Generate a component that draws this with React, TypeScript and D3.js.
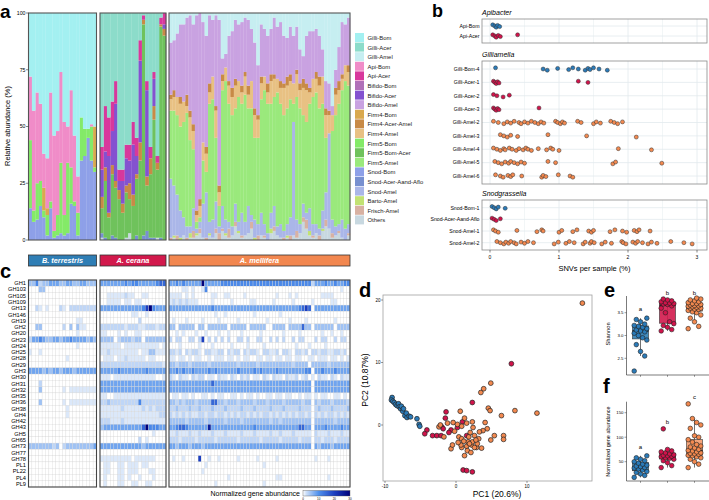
import React from "react";
import * as d3 from "d3";

const FONT = "'Liberation Sans', Arial, Helvetica, sans-serif";

// ---------- shared ----------
const hosts = ["B. terrestris", "A. cerana", "A. mellifera"];
const hostColors = ["#2f7eb5", "#d2194c", "#f2874f"];
const pointColors = ["#2b7bb9", "#d1134b", "#f3894f"];

// ---------- panel a ----------
const taxa = ["Gilli-Bom", "Gilli-Acer", "Gilli-Amel", "Api-Bom", "Api-Acer", "Bifido-Bom", "Bifido-Acer", "Bifido-Amel", "Firm4-Bom", "Firm4-Acer-Amel", "Firm4-Amel", "Firm5-Bom", "Firm5-Bom-Acer", "Firm5-Amel", "Snod-Bom", "Snod-Acer-Aand-Aflo", "Snod-Amel", "Barto-Amel", "Frisch-Amel", "Others"];
const taxaColors = ["#a3f0f1", "#8cdcca", "#c6eef1", "#f08cc8", "#d8389c", "#b070b8", "#8452d0", "#c9a2e1", "#d9a94f", "#c88a46", "#e8c183", "#84ea68", "#6fc25c", "#9ae97c", "#8ea0e8", "#7890d0", "#aab6e8", "#c2e272", "#d8b1a2", "#c8d8e0"];
const yTicksA = [0, 25, 50, 75, 100];

const bomSnod = [14, 8, 9, 15, 10, 2, 14, 1, 2, 3, 2, 3, 16, 15, 2, 35, 37, 45, 35, 30];
const bomFirm5 = [30, 5, 16, 11, 3, 9, 3, 3, 9, 31, 9, 31, 16, 2, 10, 19, 12, 4, 15, 2];
const bomFirm4 = [0, 0, 0, 0, 10, 3, 0, 0, 0, 0, 0, 0, 0, 0, 0, 0, 0, 0, 0, 18];
const bomApi = [28, 44, 40, 34, 15, 22, 48, 42, 37, 40, 41, 16, 34, 29, 16, 0, 0, 0, 1, 0];

const acerOthers = [1, 0, 0, 0, 0, 0, 0, 1, 3, 0, 0, 0, 0, 0, 0, 0, 1, 0, 0];
const acerSnod = [2, 1, 0, 2, 1, 0, 0, 0, 0, 0, 2, 0, 2, 4, 1, 1, 0, 1, 0];
const acerFirm5 = [11, 25, 10, 27, 22, 18, 12, 20, 15, 15, 25, 35, 93, 20, 28, 52, 30, 93, 90];
const acerFirm4 = [5, 6, 2, 4, 3, 4, 4, 3, 7, 5, 2, 8, 2, 4, 7, 6, 3, 1, 3];
const acerBifido = [12, 7, 25, 15, 34, 4, 10, 12, 10, 22, 8, 36, 0, 38, 0, 12, 0, 0, 2];
const acerApi = [10, 20, 17, 13, 10, 5, 5, 6, 7, 10, 8, 9, 2, 4, 5, 3, 3, 3, 5];

const amelOthers = [0, 1, 0, 0, 2, 0, 1, 1, 2, 3, 1, 0, 2, 1, 3, 0, 4, 2, 1, 2, 6, 3, 1, 2, 3, 5, 0, 0, 2, 1, 0, 3, 4, 2, 1, 0, 1, 0, 2, 1, 3, 8, 5, 2, 1, 3, 0, 4, 6, 5, 1, 2, 3, 1, 0, 2];
const amelFrisch = [1, 0, 2, 0, 0, 1, 0, 3, 0, 2, 0, 1, 0, 0, 2, 3, 1, 0, 4, 0, 2, 0, 1, 0, 0, 3, 0, 2, 0, 1, 0, 0, 2, 0, 0, 1, 0, 2, 0, 3, 0, 2, 4, 0, 1, 0, 2, 0, 3, 0, 2, 0, 1, 0, 0, 1];
const amelBarto = [0, 1, 0, 1, 0, 0, 2, 0, 1, 0, 0, 0, 1, 0, 0, 0, 0, 1, 0, 0, 0, 1, 0, 0, 0, 0, 1, 0, 0, 0, 0, 2, 0, 0, 0, 0, 1, 0, 0, 0, 0, 0, 0, 2, 0, 0, 0, 1, 0, 0, 0, 0, 0, 0, 0, 0];
const amelSnod = [26, 22, 18, 12, 8, 5, 3, 10, 2, 3, 15, 20, 5, 8, 12, 3, 10, 6, 3, 4, 8, 4, 10, 6, 12, 3, 8, 5, 10, 5, 3, 7, 9, 4, 6, 3, 5, 8, 50, 5, 4, 6, 3, 10, 5, 4, 3, 8, 12, 42, 6, 4, 3, 8, 5, 4];
const amelFirm5 = [30, 33, 35, 37, 42, 50, 38, 26, 3, 2, 19, 9, 52, 53, 28, 9, 51, 61, 52, 49, 42, 55, 48, 56, 43, 47, 36, 38, 50, 59, 57, 48, 48, 59, 53, 51, 51, 52, 8, 54, 51, 39, 40, 46, 56, 58, 53, 47, 24, 0, 39, 49, 53, 57, 65, 61];
const amelFirm4 = [5, 6, 8, 10, 9, 3, 10, 8, 3, 5, 8, 8, 5, 10, 12, 6, 4, 6, 8, 8, 10, 7, 5, 8, 6, 12, 10, 8, 7, 6, 5, 10, 8, 6, 7, 12, 10, 8, 9, 10, 8, 12, 14, 5, 8, 6, 10, 12, 10, 8, 7, 9, 6, 5, 7, 6];
const amelFirm4b = [2, 3, 0, 3, 0, 5, 3, 3, 2, 3, 0, 3, 4, 0, 2, 3, 3, 0, 2, 4, 3, 0, 3, 2, 4, 0, 3, 2, 3, 0, 4, 3, 2, 0, 3, 2, 4, 3, 0, 2, 3, 4, 3, 2, 0, 3, 4, 0, 3, 2, 0, 3, 4, 2, 0, 3];
const amelBifido = [23, 22, 28, 32, 34, 34, 42, 44, 86, 82, 53, 49, 30, 25, 40, 73, 7, 6, 20, 25, 26, 25, 28, 24, 29, 23, 29, 22, 23, 21, 21, 20, 25, 23, 26, 21, 17, 21, 21, 19, 15, 10, 21, 25, 21, 19, 18, 12, 12, 12, 4, 8, 15, 23, 18, 21];

// ---------- panel b ----------
const apiRows = ["Api-Bom", "Api-Acer"];
const gilliRows = ["Gilli-Bom-4", "Gilli-Acer-1", "Gilli-Acer-2", "Gilli-Acer-3", "Gilli-Amel-2", "Gilli-Amel-3", "Gilli-Amel-4", "Gilli-Amel-5", "Gilli-Amel-6"];
const snodRows = ["Snod-Bom-1", "Snod-Acer-Aand-Aflo", "Snod-Amel-1", "Snod-Amel-2"];
const snvTicks = [0, 1, 2, 3];

const snvApiBom = [0.04, 0.07, 0.09, 0.11, 0.14];
const snvApiAcer = [0.04, 0.07, 0.09, 0.12, 0.15, 0.4];
const snvGilliBom4 = [0.08, 0.77, 0.83, 0.98, 1.14, 1.2, 1.28, 1.38, 1.42, 1.45, 1.5, 1.58, 1.7];
const snvGilliAcer1 = [0.05, 0.07, 0.09, 0.11, 0.13, 1.28, 1.42];
const snvGilliAcer2 = [0.05, 0.1, 0.19, 0.28];
const snvGilliAcer3 = [0.05, 0.07, 0.09, 0.11, 0.13, 0.71];
const snvGilliAmel2 = [0.05, 0.12, 0.2, 0.25, 0.3, 0.35, 0.42, 0.45, 0.5, 0.55, 0.6, 0.65, 0.7, 0.74, 0.78, 0.95, 0.98, 1.02, 1.05, 1.08, 1.27, 1.32, 1.5, 1.54, 1.6, 1.75, 1.8, 1.85, 1.92];
const snvGilliAmel3 = [0.15, 0.2, 0.25, 0.3, 0.4, 0.84, 1.4, 2.12];
const snvGilliAmel4 = [0.05, 0.1, 0.15, 0.2, 0.22, 0.28, 0.32, 0.38, 0.42, 0.48, 0.52, 0.55, 0.6, 0.7, 0.82, 0.88, 0.91, 1.0, 1.86, 2.34];
const snvGilliAmel5 = [0.07, 0.12, 0.17, 0.22, 0.27, 0.3, 0.35, 0.4, 0.45, 0.5, 0.84, 0.95, 1.78, 1.82, 2.49];
const snvGilliAmel6 = [0.08, 0.15, 0.19, 0.26, 0.3, 0.33, 0.46, 0.75, 0.77, 0.81, 0.99, 1.16, 1.2];
const snvSnodBom1 = [0.03, 0.06, 0.09, 0.12, 0.22];
const snvSnodAcer = [0.03, 0.06, 0.09, 0.15];
const snvSnodAmel1 = [0.05, 0.08, 0.12, 0.39, 0.68, 0.75, 0.77, 1.0, 1.04, 1.2, 1.26, 1.43, 1.47, 1.5, 1.74, 1.81, 1.92, 1.98, 2.09, 2.13, 2.16, 2.32];
const snvSnodAmel2 = [0.1, 0.15, 0.2, 0.23, 0.27, 0.3, 0.35, 0.38, 0.45, 0.5, 0.55, 0.63, 0.93, 0.99, 1.1, 1.15, 1.22, 1.35, 1.38, 1.45, 1.47, 1.51, 1.62, 1.67, 1.76, 1.91, 1.93, 1.97, 2.07, 2.11, 2.14, 2.21, 2.29, 2.34, 2.42, 2.62, 2.81, 2.93];

// ---------- panel c ----------
const geneFamilies = ["GH1", "GH103", "GH105", "GH109", "GH13", "GH146", "GH19", "GH2", "GH20", "GH23", "GH24", "GH25", "GH28", "GH29", "GH3", "GH30", "GH31", "GH32", "GH35", "GH36", "GH38", "GH4", "GH42", "GH43", "GH5", "GH65", "GH73", "GH77", "GH78", "PL1", "PL22", "PL4", "PL9"];
const levelValues = [0, 1.5, 3, 5, 8, 11, 15, 20, 25, 30];
const legendTicks = [0, 10, 20, 30];
const bomHeat = [
  "33523344433443344333", "00033000000000000000", "", "", "00210100021022222222", "", "00000000000000110000",
  "00330000002030311000", "00000000000000100000", "24454334434454444343", "00000000000000100000", "10010000000000000000",
  "00000000000100000000", "", "44443434434443444444", "", "00020000000000000000", "00030000001011111111", "",
  "00030000001011111111", "00000000000100000000", "00000000000100000000", "", "", "", "", "33333332302333333334",
  "", "", "", "", "", "",
];
const acerHeat = [
  "4444444545544444566", "", "0011111211001100000", "0011110110110000000", "4444444444445795444", "0000000001100100000",
  "0000000000020000000", "2222222122211222122", "1100010100110000000", "3333023332330333333", "1111110111111111101",
  "1121111111101133111", "0111011211111011000", "2222222222222222221", "4444454444444544444", "1110111111111111001",
  "4444444444444444444", "4444444444444444444", "1100111111111111111", "2232222222252222222", "1111112111112121222",
  "1111111111111111122", "2221112111111111111", "3444444444446955544", "0000000000000001000", "0000000000020100000",
  "4444444444443444444", "", "1111111110111111000", "0110011011101100000", "0110011011100011000", "0100011010010001000",
  "0100011001100110000",
];
const amelHeat = [
  "44545444 44944444 55555555 55555555 55555555 55552444 54454455",
  "00001101 00150000 00000000 00000000 00000000 00000000 00000100",
  "11110101 00000110 01100001 00000000 01000101 00000001 11100000",
  "12121211 10000100 00010000 01100000 10000010 00001000 00110000",
  "44444444 44444544 44444444 44444444 44444444 56760444 44444444",
  "00000000 00000010 01000000 00100000 00100000 00000000 00000000",
  "01000100 00100001 00000100 00000010 00000100 00100000 00010000",
  "33033333 03303333 33033333 03333300 33330333 36330333 33303333",
  "00101000 10010001 00100010 00001000 00010000 10000001 00100100",
  "20220022 02702020 20200220 20022002 02020020 22000202 20020220",
  "00010000 01000100 00010000 10000100 00000001 00010000 10000000",
  "22120212 21022112 20212202 12210221 12022102 21202212 21122120",
  "11011010 11001011 10110101 10011011 01101101 10011011 10110101",
  "33233323 33332333 33333233 33323333 33333323 33303333 32333333",
  "44545445 44445454 44444544 44545444 45444444 44550445 44454444",
  "21021102 12201102 11021021 20110210 21102112 01201021 10210211",
  "44444444 44444644 44444444 44444444 44444444 44440444 44444444",
  "44444444 44444444 44444444 44444444 44444444 44440444 44444444",
  "01101101 00110101 10011010 11010011 01101100 10110101 10011010",
  "33232333 23333663 32333233 33233323 33323333 32330323 33233332",
  "22322232 23222322 23222232 22322223 22232222 32220232 22322223",
  "21212121 12212212 21212122 12121221 21212121 22120212 12212121",
  "33333233 33323333 32333323 33333332 33233333 33330333 33323333",
  "44566544 44448444 44444444 44544444 44444444 66440444 54444544",
  "11211121 12111211 12111121 11211112 11211121 11110211 12111211",
  "22212222 12222212 22222122 22221222 22122222 12220221 22212222",
  "44344434 44344444 44444444 44444444 44444444 44440434 44344444",
  "",
  "01001000 07001001 00000100 00010000 01000000 00000100 01000000",
  "00000000 00010000 00000000 00000100 00000000 00000000 00000000",
  "00000000 00100000 00000000 00000000 00000000 00000000 00000000",
  "00000000 00000000 00100000 00000000 01100000 00000000 01000000",
  "00000000 00000010 00000000 00000100 00000000 00000000 00000000",
];

// ---------- panel d ----------
const pcaTicksX = [-10, 0, 10];
const pcaTicksY = [0, 10, 20];
const pcaBom = [[-9.0, 4.4], [-9.1, 4.0], [-8.9, 3.8], [-8.7, 3.6], [-8.5, 3.3], [-8.3, 3.1], [-8.1, 3.4], [-8.0, 2.9], [-7.8, 2.6], [-7.7, 3.0], [-7.5, 2.2], [-7.4, 2.6], [-7.2, 1.5], [-7.0, 1.9], [-6.9, 1.2], [-6.6, 1.4], [-6.4, 1.3], [-5.5, 1.0], [-5.2, 0.1], [-5.1, -0.2]];
const pcaAcer = [[7.8, 9.8], [2.3, 3.6], [-1.4, 2.1], [-1.5, 1.1], [-4.1, -0.8], [-4.4, -1.4], [-3.3, -1.7], [-2.7, -1.7], [-2.1, -1.7], [-2.0, -0.3], [0.9, 0.5], [1.0, -7.2], [1.5, -7.3], [2.3, -7.5], [-0.7, -0.8], [1.5, -1.7], [-1.0, -1.2], [-1.8, -0.6], [0.2, -0.4]];
const pcaAmel = [[17.8, 19.5], [11.4, 1.9], [4.9, 6.7], [3.5, 5.2], [3.9, 5.8], [4.55, 2.7], [4.8, 2.3], [6.4, 1.5], [8.3, 2.3], [6.7, -1.7], [6.7, -2.3], [5.4, -1.7], [4.9, -2.4], [4.1, 0.4], [4.4, -0.6], [3.8, -0.9], [0.6, 2.2], [-0.4, 0.4], [0.2, 0.1], [0.8, -0.2], [1.5, 0.3], [2.3, 0.5], [2.4, -0.4], [0.4, -1.9], [0.8, -2.2], [1.8, -1.9], [2.6, -1.7], [3.2, -2.2], [1.5, -3.4], [2.2, -3.2], [2.9, -3.6], [3.6, -3.7], [0.8, -3.6], [1.6, -4.1], [1.2, -4.9], [0.7, -3.2], [-0.7, -3.8], [-0.5, -3.2], [-2.4, -0.3], [-2.2, 0], [-1.7, -1.9], [2.3, -2.7], [3.0, -3.0], [1.7, -2.7], [2.6, -3.6], [1.1, -2.6], [2.0, -1.2], [-0.2, -1.0], [3.3, -1.1], [1.2, 1.1], [2.8, -2.4], [0.3, -2.8], [-1.2, 0.3], [2.1, -4.4], [1.9, -3.0]];

// ---------- panels e, f ----------
const shannonTicks = [2.5, 3.0, 3.5];
const geneTicks = [50, 100, 150];
const shannonBom = [2.22, 2.55, 2.65, 2.8, 2.9, 2.95, 3.0, 3.05, 3.08, 3.1, 3.12, 3.15, 3.18, 3.2, 3.22, 3.25, 3.3, 3.35, 3.38];
const shannonAcer = [3.1, 3.13, 3.18, 3.22, 3.26, 3.3, 3.5, 3.6, 3.65, 3.68, 3.69, 3.7, 3.71, 3.72, 3.74, 3.76, 3.78, 3.8];
const shannonAmel = [3.15, 3.2, 3.3, 3.38, 3.45, 3.5, 3.52, 3.55, 3.57, 3.58, 3.6, 3.6, 3.62, 3.63, 3.64, 3.65, 3.66, 3.67, 3.68, 3.7, 3.7, 3.72, 3.74, 3.76, 3.78, 3.8, 3.82];
const shannonLetters = ["a", "b", "b"];
const geneBom = [18, 22, 25, 28, 30, 33, 35, 37, 38, 40, 41, 43, 45, 47, 50, 52, 55, 58, 62];
const geneAcer = [38, 42, 48, 52, 55, 57, 58, 60, 61, 62, 63, 64, 66, 68, 70, 72, 75, 117];
const geneAmel = [38, 45, 50, 55, 58, 60, 62, 63, 65, 66, 67, 68, 70, 72, 73, 75, 78, 80, 82, 85, 90, 95, 100, 103, 118, 125, 130, 138, 168];
const geneLetters = ["a", "b", "c"];

// ---------- helpers ----------
const colorOf = d3.scaleOrdinal<string, string>().domain(taxa).range(taxaColors);
const heatColor = d3.scaleLinear<string>().domain([0, 2, 10, 20, 30]).range(["#ffffff", "#cfe0f8", "#4f90ec", "#1c3fc0", "#00007a"]);
const parseRow = (s: string, n: number) => s.replace(/\s/g, "").padEnd(n, "0").slice(0, n).split("").map((c) => levelValues[+c]);
const groupX = [[28.5, 96.5], [100, 166], [169, 350]];

function boxStats(vals: number[]) {
  const s = vals.slice().sort(d3.ascending);
  const q1 = d3.quantile(s, 0.25)!, med = d3.quantile(s, 0.5)!, q3 = d3.quantile(s, 0.75)!;
  const iqr = q3 - q1;
  const lo = d3.min(s.filter((v) => v >= q1 - 1.5 * iqr))!;
  const hi = d3.max(s.filter((v) => v <= q3 + 1.5 * iqr))!;
  return { q1, med, q3, lo, hi };
}

export default function App() {
  // panel a scales
  const yA = d3.scaleLinear().domain([0, 100]).range([240, 13]);
  const barGroups: { layers: [string, number[]][]; rest: string }[] = [
    { layers: [["Snod-Bom", bomSnod], ["Firm5-Bom", bomFirm5], ["Firm4-Bom", bomFirm4], ["Api-Bom", bomApi]], rest: "Gilli-Bom" },
    { layers: [["Others", acerOthers], ["Snod-Acer-Aand-Aflo", acerSnod], ["Firm5-Bom-Acer", acerFirm5], ["Firm4-Acer-Amel", acerFirm4], ["Bifido-Acer", acerBifido], ["Api-Acer", acerApi]], rest: "Gilli-Acer" },
    { layers: [["Others", amelOthers], ["Frisch-Amel", amelFrisch], ["Barto-Amel", amelBarto], ["Snod-Amel", amelSnod], ["Firm5-Amel", amelFirm5], ["Firm4-Amel", amelFirm4], ["Firm4-Acer-Amel", amelFirm4b], ["Bifido-Amel", amelBifido]], rest: "Gilli-Amel" },
  ];

  const barEls: any[] = [];
  barGroups.forEach((g, gi) => {
    const n = g.layers[0][1].length;
    const keys = g.layers.map((l) => l[0]).concat([g.rest]);
    const rows = d3.range(n).map((i) => {
      const o: any = {};
      let sum = 0;
      g.layers.forEach(([k, arr]) => { o[k] = arr[i]; sum += arr[i]; });
      o[g.rest] = Math.max(0, 100 - sum);
      return o;
    });
    const series = d3.stack().keys(keys)(rows);
    const xb = d3.scaleBand<number>().domain(d3.range(n)).range(groupX[gi] as [number, number]).padding(0);
    series.forEach((s) => {
      s.forEach((d, i) => {
        const y0 = yA(d[0]), y1 = yA(Math.min(100, d[1]));
        if (y0 - y1 <= 0) return;
        barEls.push(<rect key={`b${gi}-${s.key}-${i}`} x={xb(i)!} y={y1} width={xb.bandwidth() + 0.25} height={y0 - y1} fill={colorOf(s.key as string)} />);
      });
    });
  });

  // panel b
  const xB = d3.scaleLinear().domain([0, 3]).range([490, 697]);
  const facets = [
    { title: "Apibacter", rows: apiRows, hostIdx: [0, 1], values: [snvApiBom, snvApiAcer] },
    { title: "Gilliamella", rows: gilliRows, hostIdx: [0, 1, 1, 1, 2, 2, 2, 2, 2], values: [snvGilliBom4, snvGilliAcer1, snvGilliAcer2, snvGilliAcer3, snvGilliAmel2, snvGilliAmel3, snvGilliAmel4, snvGilliAmel5, snvGilliAmel6] },
    { title: "Snodgrassella", rows: snodRows, hostIdx: [0, 1, 2, 2], values: [snvSnodBom1, snvSnodAcer, snvSnodAmel1, snvSnodAmel2] },
  ];
  const facetBox = [[19, 43], [61, 184], [200, 250]];
  const facetSpan = [[26, 36], [69, 176], [207.7, 242.7]];
  const facetTitleY = [15, 56.5, 196];
  const gridB = [0, 0.5, 1, 1.5, 2, 2.5, 3];
  const jit = (j: number) => (((j * 7) % 5) - 2) * 0.6;

  // panel c
  const yH = d3.scaleBand<string>().domain(geneFamilies).range([280, 487]);
  const heats = [bomHeat, acerHeat, amelHeat];
  const heatN = [20, 19, 56];

  // panel d
  const xD = d3.scaleLinear().domain([-10, 10]).range([385, 527]);
  const yD = d3.scaleLinear().domain([0, 20]).range([425, 300]);

  // panel e, f
  const xE = d3.scaleBand<number>().domain([0, 1, 2]).range([627, 708]);
  const yE = d3.scaleLinear().domain([2.5, 3.5]).range([358.3, 312.7]);
  const yF = d3.scaleLinear().domain([50, 150]).range([461.7, 412.7]);

  const boxPanel = (data: number[][], y: any, key: string, letters: string[], letterY: number[]) => (
    <g key={key}>
      {data.map((vals, gi) => {
        const st = boxStats(vals);
        const cx = xE(gi)! + xE.bandwidth() / 2;
        const bw = 16;
        return (
          <g key={key + gi}>
            <line x1={cx} x2={cx} y1={y(st.lo)} y2={y(st.hi)} stroke="#333" strokeWidth={0.7} />
            <rect x={cx - bw / 2} y={y(st.q3)} width={bw} height={y(st.q1) - y(st.q3)} fill={hostColors[gi]} fillOpacity={gi === 2 ? 0.75 : 0.9} stroke="#333" strokeWidth={0.6} />
            <line x1={cx - bw / 2} x2={cx + bw / 2} y1={y(st.med)} y2={y(st.med)} stroke="#111" strokeWidth={1.2} />
            {vals.map((v, j) => (
              <circle key={j} cx={cx + ((((j * 5) % 7) - 3) * 2.1)} cy={y(v)} r={2.3} fill={pointColors[gi]} stroke="#222" strokeWidth={0.6} />
            ))}
            <text x={cx} y={letterY[gi]} textAnchor="middle" fontSize={6}>{letters[gi]}</text>
            <line x1={cx} x2={cx} y1={key === "e" ? 375 : 481} y2={(key === "e" ? 375 : 481) + 1.8} stroke="#333" strokeWidth={0.5} />
          </g>
        );
      })}
    </g>
  );

  return (
    <svg width={709} height={500} style={{ position: "absolute", left: 0, top: 0, background: "#fff" }} fontFamily={FONT}>
      <defs>
        <linearGradient id="hmgrad" x1="0" x2="1" y1="0" y2="0">
          {[0, 2, 10, 20, 30].map((v) => <stop key={v} offset={v / 30} stopColor={heatColor(v)} />)}
        </linearGradient>
      </defs>
      <rect width={709} height={500} fill="#fff" />

      {/* ===== panel a ===== */}
      <text x={0} y={18} fontSize={19} fontWeight="bold">a</text>
      {barEls}
      {groupX.map((gx, i) => (
        <rect key={"abox" + i} x={gx[0]} y={13} width={gx[1] - gx[0]} height={227} fill="none" stroke="#555" strokeWidth={1.1} />
      ))}
      {yTicksA.map((t) => (
        <g key={"yta" + t}>
          <line x1={26} x2={28.5} y1={yA(t)} y2={yA(t)} stroke="#333" strokeWidth={0.6} />
          <text x={25.5} y={yA(t) + 1.8} textAnchor="end" fontSize={5.2}>{t}</text>
        </g>
      ))}
      <text transform="translate(9.5,126) rotate(-90)" textAnchor="middle" fontSize={7.5}>Relative abundance (%)</text>
      {taxa.map((t, i) => (
        <g key={"lg" + t}>
          <rect x={355} y={33 + i * 9.6} width={9} height={9} fill={taxaColors[i]} />
          <text x={367.5} y={40 + i * 9.6} fontSize={5.9} fill="#222">{t}</text>
        </g>
      ))}

      {/* strips */}
      {hosts.map((h, i) => (
        <g key={"strip" + h}>
          <rect x={groupX[i][0]} y={255} width={groupX[i][1] - groupX[i][0]} height={11} fill={hostColors[i]} stroke="#333" strokeWidth={0.8} />
          <text x={(groupX[i][0] + groupX[i][1]) / 2} y={263.2} textAnchor="middle" fontSize={7.3} fontStyle="italic" fontWeight="bold" fill="#fff">{h}</text>
        </g>
      ))}

      {/* ===== panel b ===== */}
      <text x={432} y={17} fontSize={18} fontWeight="bold">b</text>
      {facets.map((f, fi) => {
        const ys = d3.scalePoint<string>().domain(f.rows).range(facetSpan[fi] as [number, number]);
        const [bt, bb] = facetBox[fi];
        return (
          <g key={f.title}>
            <text x={482} y={facetTitleY[fi]} fontSize={7} fontStyle="italic">{f.title}</text>
            <rect x={482} y={bt} width={225} height={bb - bt} fill="#fff" />
            {gridB.map((v) => (
              <line key={"gx" + v} x1={xB(v)} x2={xB(v)} y1={bt} y2={bb} stroke="#e2eaed" strokeWidth={v % 1 === 0 ? 0.8 : 0.45} />
            ))}
            {f.rows.map((r) => (
              <line key={"gy" + r} x1={482} x2={707} y1={ys(r)!} y2={ys(r)!} stroke="#e2eaed" strokeWidth={0.8} />
            ))}
            <rect x={482} y={bt} width={225} height={bb - bt} fill="none" stroke="#8a8a8a" strokeWidth={0.8} />
            {f.rows.map((r) => (
              <text key={"lb" + r} x={479.5} y={ys(r)! + 1.8} textAnchor="end" fontSize={5.2}>{r}</text>
            ))}
            {f.values.map((vals, ri) =>
              vals.map((v, j) => (
                <circle key={`p${fi}-${ri}-${j}`} cx={xB(v)} cy={ys(f.rows[ri])! + jit(j)} r={2} fill={pointColors[f.hostIdx[ri]]} stroke="#333" strokeWidth={0.5} />
              ))
            )}
          </g>
        );
      })}
      {snvTicks.map((t) => (
        <g key={"sx" + t}>
          <line x1={xB(t)} x2={xB(t)} y1={250} y2={252.5} stroke="#333" strokeWidth={0.6} />
          <text x={xB(t)} y={258.5} textAnchor="middle" fontSize={5}>{t}</text>
        </g>
      ))}
      <text x={594.5} y={271} textAnchor="middle" fontSize={7.5}>SNVs per sample (%)</text>

      {/* ===== panel c ===== */}
      <text x={0} y={277.5} fontSize={20} fontWeight="bold">c</text>
      {heats.map((rowsStr, gi) => {
        const n = heatN[gi];
        const xh = d3.scaleBand<number>().domain(d3.range(n)).range(groupX[gi] as [number, number]);
        return (
          <g key={"heat" + gi}>
            {geneFamilies.map((gf, ri) =>
              parseRow(rowsStr[ri] || "", n).map((v, ci) => (
                <rect key={`h${gi}-${ri}-${ci}`} x={xh(ci)!} y={yH(gf)!} width={xh.bandwidth()} height={yH.bandwidth()} fill={heatColor(v)} stroke="#d6d6d6" strokeWidth={0.3} />
              ))
            )}
            <rect x={groupX[gi][0]} y={280} width={groupX[gi][1] - groupX[gi][0]} height={207} fill="none" stroke="#444" strokeWidth={1.1} />
          </g>
        );
      })}
      {geneFamilies.map((gf) => (
        <text key={"gf" + gf} x={26} y={yH(gf)! + yH.bandwidth() / 2 + 2} textAnchor="end" fontSize={5.7}>{gf}</text>
      ))}
      <text x={300} y={496} textAnchor="end" fontSize={7}>Normalized gene abundance</text>
      <rect x={303} y={490.5} width={47} height={5.5} fill="url(#hmgrad)" stroke="#555" strokeWidth={0.4} />
      {legendTicks.map((t) => (
        <text key={"lt" + t} x={303 + (t / 30) * 47} y={499.8} textAnchor="middle" fontSize={3}>{t}</text>
      ))}

      {/* ===== panel d ===== */}
      <text x={359} y={297} fontSize={20} fontWeight="bold">d</text>
      <rect x={383} y={295} width={209} height={186} fill="#fff" stroke="#a0a0a0" strokeWidth={0.8} />
      {pcaTicksX.map((t) => (
        <g key={"dx" + t}>
          <line x1={xD(t)} x2={xD(t)} y1={481} y2={483} stroke="#333" strokeWidth={0.5} />
          <text x={xD(t)} y={487.5} textAnchor="middle" fontSize={4.5}>{t}</text>
        </g>
      ))}
      {pcaTicksY.map((t) => (
        <g key={"dy" + t}>
          <line x1={381} x2={383} y1={yD(t)} y2={yD(t)} stroke="#333" strokeWidth={0.5} />
          <text x={380.5} y={yD(t) + 1.6} textAnchor="end" fontSize={4.5}>{t}</text>
        </g>
      ))}
      {[pcaBom, pcaAcer, pcaAmel].map((pts, gi) =>
        pts.map((p, j) => (
          <circle key={`d${gi}-${j}`} cx={xD(p[0])} cy={yD(p[1])} r={2.4} fill={pointColors[gi]} stroke="#222" strokeWidth={0.7} />
        ))
      )}
      <text x={497} y={496.5} textAnchor="middle" fontSize={8.5}>PC1 (20.6%)</text>
      <text transform="translate(368,380) rotate(-90)" textAnchor="middle" fontSize={8.5}>PC2 (10.87%)</text>

      {/* ===== panel e ===== */}
      <text x={604} y={297} fontSize={20} fontWeight="bold">e</text>
      <line x1={626.5} x2={626.5} y1={296} y2={375} stroke="#222" strokeWidth={0.6} />
      <line x1={626.5} x2={709} y1={375} y2={375} stroke="#222" strokeWidth={0.6} />
      {shannonTicks.map((t) => (
        <g key={"et" + t}>
          <line x1={624.5} x2={626.5} y1={yE(t)} y2={yE(t)} stroke="#333" strokeWidth={0.5} />
          <text x={623.5} y={yE(t) + 1.5} textAnchor="end" fontSize={4.3}>{t.toFixed(1)}</text>
        </g>
      ))}
      <text transform="translate(610,334) rotate(-90)" textAnchor="middle" fontSize={5.8}>Shannon</text>
      {boxPanel([shannonBom, shannonAcer, shannonAmel], yE, "e", shannonLetters, [311, 294.5, 294.5])}

      {/* ===== panel f ===== */}
      <text x={603} y={393} fontSize={20} fontWeight="bold">f</text>
      <line x1={626.5} x2={626.5} y1={401.7} y2={481} stroke="#222" strokeWidth={0.6} />
      <line x1={626.5} x2={709} y1={481} y2={481} stroke="#222" strokeWidth={0.6} />
      {geneTicks.map((t) => (
        <g key={"ft" + t}>
          <line x1={624.5} x2={626.5} y1={yF(t)} y2={yF(t)} stroke="#333" strokeWidth={0.5} />
          <text x={623.5} y={yF(t) + 1.5} textAnchor="end" fontSize={4.3}>{t}</text>
        </g>
      ))}
      <text transform="translate(610,441.5) rotate(-90)" textAnchor="middle" fontSize={5.5}>Normalized gene abundance</text>
      {boxPanel([geneBom, geneAcer, geneAmel], yF, "f", geneLetters, [449, 424, 399])}
    </svg>
  );
}
